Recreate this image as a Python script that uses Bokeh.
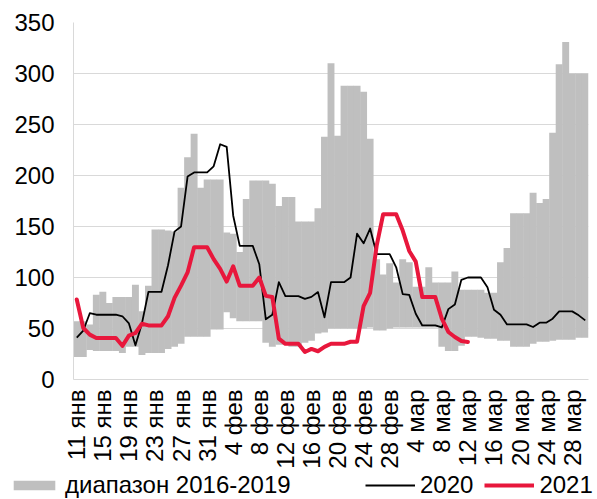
import math
from bokeh.plotting import figure
from bokeh.layouts import column
from bokeh.models import (ColumnDataSource, FixedTicker, Legend, LegendItem,
                          Range1d, Plot, Div)
from bokeh.embed import file_html
from bokeh.resources import INLINE

# Days from 11 Jan to 30 Mar (index 0..78)
tick_labels = ["11 янв", "15 янв", "19 янв", "23 янв", "27 янв", "31 янв",
               "4 фев", "8 фев", "12 фев", "16 фев", "20 фев", "24 фев", "28 фев",
               "4 мар", "8 мар", "12 мар", "16 мар", "20 мар", "24 мар", "28 мар"]

range_min = [22, 22, 29, 28, 28, 28, 28, 26, 32, 32,
             24, 26, 26, 26, 30, 32, 35, 42, 42, 42,
             42, 49, 49, 66, 60, 57, 57, 57, 57, 36,
             32, 34, 34, 32, 32, 36, 38, 45, 46, 50,
             50, 50, 50, 50, 50, 51, 48, 48, 50, 51,
             51, 51, 51, 51, 51, 51, 32, 28, 28, 33,
             42, 42, 41, 40, 40, 38, 38, 32, 32, 32,
             35, 37, 37, 38, 39, 39, 39, 41, 41]

range_max = [57, 57, 54, 83, 86, 75, 81, 81, 81, 93,
             67, 92, 147, 147, 146, 145, 188, 218, 241, 188,
             196, 196, 196, 144, 143, 125, 177, 195, 195, 195,
             192, 170, 179, 179, 155, 155, 155, 168, 238, 310,
             239, 288, 288, 288, 282, 236, 118, 103, 114, 95,
             118, 115, 91, 91, 110, 95, 95, 95, 106, 88,
             88, 88, 88, 85, 85, 115, 129, 163, 163, 163,
             183, 173, 177, 242, 309, 331, 300, 300, 300]

y2020 = [41, 48, 65, 63.5, 63.5, 63.5, 63.5, 62, 55, 33.5,
         55, 86, 86, 86, 112, 145, 150, 199, 203, 203,
         203, 209, 230.6, 228, 160.6, 131, 131, 131, 113, 59,
         63.5, 95.4, 81.8, 81.8, 81.8, 79, 81, 85.7, 61, 95.4,
         95.4, 95.4, 100, 143, 133.5, 148, 123, 123, 123, 110,
         83.7, 83, 64.5, 53, 53, 53, 51, 69, 73.6, 97.7,
         100, 100, 100, 90.5, 68.4, 63.5, 54, 54, 54, 54,
         51.5, 55.7, 55.7, 59.6, 66.8, 66.8, 66.8, 62.9, 58]

y2021 = [78.5, 50.5, 44, 40.7, 40.7, 40.7, 40.7, 33, 43, 45.6,
         54.7, 53, 53, 53, 62, 80, 92, 105, 129.6, 129.6,
         129.6, 118, 108.5, 96, 111, 92, 92, 92, 100, 82,
         80.8, 40, 35, 35, 35, 27, 30, 27.7, 32, 35,
         35, 35, 37, 37, 72, 85, 131, 162, 162, 162,
         146, 126, 115.6, 80.8, 80.8, 80.8, 59.6, 46.6, 41.7, 37.8, 36.8]

legend_labels = ["диапазон 2016-2019", "2020", "2021"]

n_days = len(range_max)
days = list(range(n_days))
tick_pos = list(range(0, n_days, 4))[:len(tick_labels)]

FONT = "Liberation Sans"
FS = "24px"
GREY = "#BFBFBF"
RED = "#E8173C"

band_src = ColumnDataSource(dict(x=days, lo=range_min, hi=range_max))
src20 = ColumnDataSource(dict(x=days, y=y2020))
src21 = ColumnDataSource(dict(x=days[:len(y2021)], y=y2021))

p = figure(width=597, height=471, output_backend="svg", toolbar_location=None,
           x_range=Range1d(-0.5, n_days - 0.5), y_range=Range1d(0, 350),
           min_border_left=73, min_border_right=9, min_border_top=22,
           min_border_bottom=90)
p.outline_line_color = None

# slight overlap so adjacent days form one solid stepped band
r_band = p.vbar(x="x", bottom="lo", top="hi", width=1.06, source=band_src,
                fill_color=GREY, line_color=None)
r20 = p.line("x", "y", source=src20, line_color="black", line_width=1.8,
             line_join="round")
r21 = p.line("x", "y", source=src21, line_color=RED, line_width=4,
             line_join="round", line_cap="round")

# grids
p.xgrid.visible = False
p.ygrid.ticker = FixedTicker(ticks=list(range(0, 351, 50)))
p.ygrid.grid_line_color = "#D9D9D9"
p.ygrid.grid_line_width = 1

# y axis
ya = p.yaxis[0]
ya.ticker = FixedTicker(ticks=list(range(0, 351, 50)))
ya.axis_line_color = "#D9D9D9"
ya.major_tick_line_color = None
ya.minor_tick_line_color = None
ya.major_tick_out = 0
ya.major_label_standoff = 19
ya.major_label_text_font = FONT
ya.major_label_text_font_size = FS
ya.major_label_text_color = "black"

# x axis
xa = p.xaxis[0]
xa.ticker = FixedTicker(ticks=tick_pos)
xa.major_label_overrides = {t: lab for t, lab in zip(tick_pos, tick_labels)}
xa.major_label_orientation = math.pi / 2
xa.axis_line_color = "#D9D9D9"
xa.major_tick_line_color = None
xa.minor_tick_line_color = None
xa.major_tick_out = 0
xa.major_label_standoff = 10
xa.major_label_text_font = FONT
xa.major_label_text_font_size = FS
xa.major_label_text_color = "black"

has_frame_align = "frame_align" in Plot.properties()

if has_frame_align:
    p.frame_align = False
    # legend row (separate strip below the chart)
    lg = figure(width=597, height=28, output_backend="svg", toolbar_location=None,
                x_range=Range1d(0, 1), y_range=Range1d(0, 1),
                x_axis_location=None, y_axis_location=None,
                min_border_left=0, min_border_right=0, min_border_top=0,
                min_border_bottom=0)
    lg.frame_align = False
    lg.outline_line_color = None
    lg.grid.visible = False
    # key renderers carry the series styles; their single point lies off-range
    k_band = lg.vbar(x=[5], bottom=[5], top=[6], width=1.0, fill_color=GREY,
                     line_color=None)
    k20 = lg.line(x=[5, 6], y=[5, 5], line_color="black", line_width=1.8)
    k21 = lg.line(x=[5, 6], y=[5, 5], line_color=RED, line_width=4)

    def style_legend(leg):
        leg.padding = 0
        leg.margin = 0
        leg.border_line_color = None
        leg.background_fill_alpha = 0
        leg.label_text_font = FONT
        leg.label_text_font_size = FS
        leg.label_text_color = "black"
        leg.glyph_width = 52
        leg.glyph_height = 12
        leg.label_standoff = 5
        leg.label_height = 20
        leg.orientation = "horizontal"

    legA = Legend(items=[LegendItem(label=legend_labels[0], renderers=[k_band])],
                  location=(8, 0))
    style_legend(legA)
    legB = Legend(items=[LegendItem(label=legend_labels[1], renderers=[k20]),
                         LegendItem(label=legend_labels[2], renderers=[k21])],
                  location=(365, 0), spacing=11)
    style_legend(legB)
    legB.glyph_width = 50
    lg.add_layout(legA)
    lg.add_layout(legB)
    bottom = lg
else:
    html = (
        '<div style="position:relative;width:597px;height:28px;'
        'font-family:\'Liberation Sans\';font-size:24px;color:black;">'
        '<span style="position:absolute;left:8px;top:9px;width:52px;height:12px;'
        'background:%s;"></span>'
        '<span style="position:absolute;left:65px;top:0px;line-height:28px;">%s</span>'
        '<span style="position:absolute;left:365px;top:13px;width:50px;height:2px;'
        'background:black;"></span>'
        '<span style="position:absolute;left:420px;top:0px;line-height:28px;">%s</span>'
        '<span style="position:absolute;left:484px;top:12px;width:50px;height:4px;'
        'background:%s;"></span>'
        '<span style="position:absolute;left:539px;top:0px;line-height:28px;">%s</span>'
        '</div>' % (GREY, legend_labels[0], legend_labels[1], RED, legend_labels[2]))
    bottom = Div(text=html, width=597, height=28)

layout = column(p, bottom, spacing=0)
open("out.html", "w").write(file_html(layout, INLINE))
